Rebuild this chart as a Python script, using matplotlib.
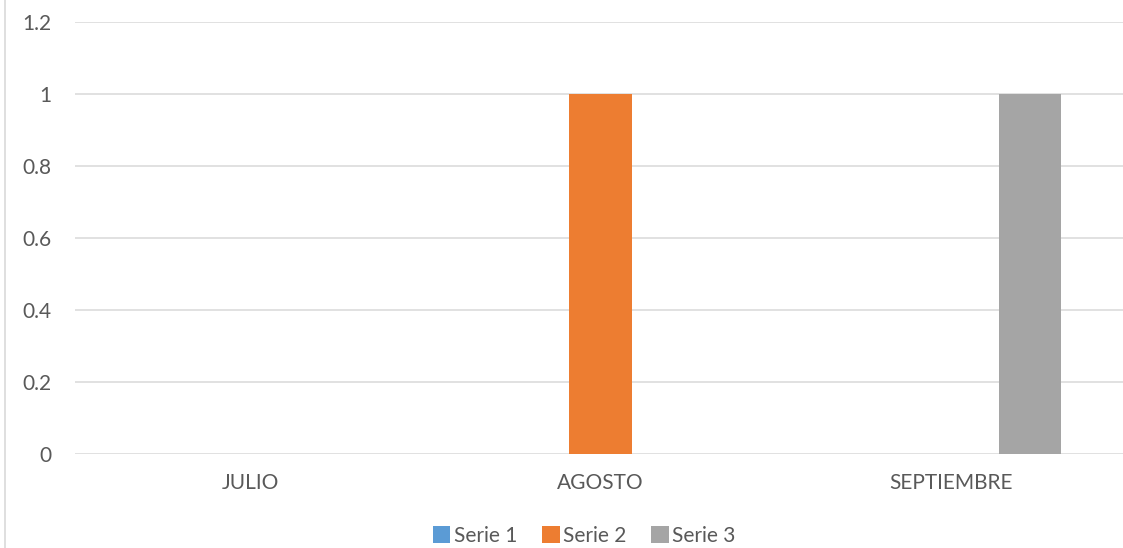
import numpy as np
import matplotlib
matplotlib.use("Agg")
import matplotlib.pyplot as plt
from matplotlib.lines import Line2D

# ---------------- DATA ---------------- #

months = ["JULIO", "AGOSTO", "SEPTIEMBRE"]
series_names = ["Serie 1", "Serie 2", "Serie 3"]
serie_1 = [0, 0, 0]
serie_2 = [0, 1, 0]
serie_3 = [0, 0, 1]
y_ticks = [0, 0.2, 0.4, 0.6, 0.8, 1, 1.2]
y_tick_labels = ["0", "0.2", "0.4", "0.6", "0.8", "1", "1.2"]

colors = ["#5B9BD5", "#ED7D31", "#A5A5A5"]
text_color = "#595959"
grid_color = "#D9D9D9"

plt.rcParams["font.family"] = ["Lato", "DejaVu Sans"]
fs = 15

# ---------------- FIGURE ---------------- #

fig = plt.figure(figsize=(11.23, 5.48), dpi=100)
ax = fig.add_axes([75 / 1123, 94 / 548, 1051 / 1123, 432 / 548])

x = np.arange(len(months))
width = 0.177
offset = 0.225

for i, values in enumerate([serie_1, serie_2, serie_3]):
    ax.bar(
        x + (i - 1) * offset,
        values,
        width=width,
        color=colors[i],
        label=series_names[i],
        zorder=3
    )

ax.set_xlim(-0.5, len(months) - 0.5)
ax.set_ylim(0, 1.2)

ax.set_yticks(y_ticks)
ax.set_yticklabels(y_tick_labels)
ax.set_xticks(x)
ax.set_xticklabels(months)

ax.tick_params(axis="y", length=0, pad=17, labelsize=fs, labelcolor=text_color)
ax.tick_params(axis="x", length=0, pad=14, labelsize=fs, labelcolor=text_color)

ax.grid(axis="y", color=grid_color, linewidth=1.1, zorder=0)
ax.set_axisbelow(True)

for spine in ax.spines.values():
    spine.set_visible(False)

# chart border on the left edge
fig.add_artist(Line2D([4.5 / 1123, 4.5 / 1123], [0, 1], color=grid_color,
                      linewidth=1.2, transform=fig.transFigure))

legend = fig.legend(
    loc="lower center",
    bbox_to_anchor=(584 / 1123, -0.03),
    ncol=3,
    frameon=False,
    handlelength=0.85,
    handleheight=0.85,
    handletextpad=0.15,
    columnspacing=1.2,
    fontsize=fs
)

for text in legend.get_texts():
    text.set_color(text_color)

plt.savefig("out.png", dpi=100)
